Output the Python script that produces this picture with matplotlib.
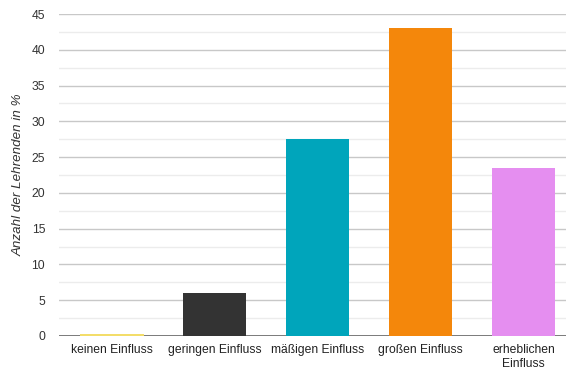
import matplotlib.pyplot as plt
import numpy as np

# Einfluss-Kategorien und Anteil der Lehrenden in %
categories = ['keinen Einfluss', 'geringen Einfluss', 'mäßigen Einfluss',
              'großen Einfluss', 'erheblichen\nEinfluss']
values = [0.3, 6.0, 27.5, 43.0, 23.5]
colors = ['#f3dd6a', '#333333', '#00a5bb', '#f4870b', '#e58ef0']

plt.rcParams['font.family'] = ['Liberation Sans', 'DejaVu Sans']

fig = plt.figure(figsize=(5.68, 3.7), dpi=100)
ax = fig.add_axes([0.104, 0.092, 0.892, 0.870])

x = np.arange(len(categories))
ax.axhline(0, color='#666666', linewidth=1.2, zorder=2)
ax.bar(x, values, width=0.62, color=colors, zorder=3)

ax.set_xlim(-0.51, 4.41)
ax.set_ylim(0, 45)
ax.set_yticks(np.arange(0, 46, 5))
ax.set_yticks(np.arange(2.5, 45, 5), minor=True)
ax.grid(axis='y', which='major', color='#c8c8c8', linewidth=1.0, zorder=0)
ax.grid(axis='y', which='minor', color='#ececec', linewidth=1.0, zorder=0)

ax.set_xticks(x)
ax.set_xticklabels(categories, fontsize=8.7, color='#222222')
ax.tick_params(axis='y', labelsize=8.7, labelcolor='#333333', length=0, pad=10)
ax.tick_params(axis='x', length=0, pad=6)
ax.tick_params(which='minor', length=0)

for s in ax.spines.values():
    s.set_visible(False)

ax.set_ylabel('Anzahl der Lehrenden in %', fontsize=9.6, style='italic',
              color='#333333', labelpad=5)

fig.savefig('out.png', dpi=100)
